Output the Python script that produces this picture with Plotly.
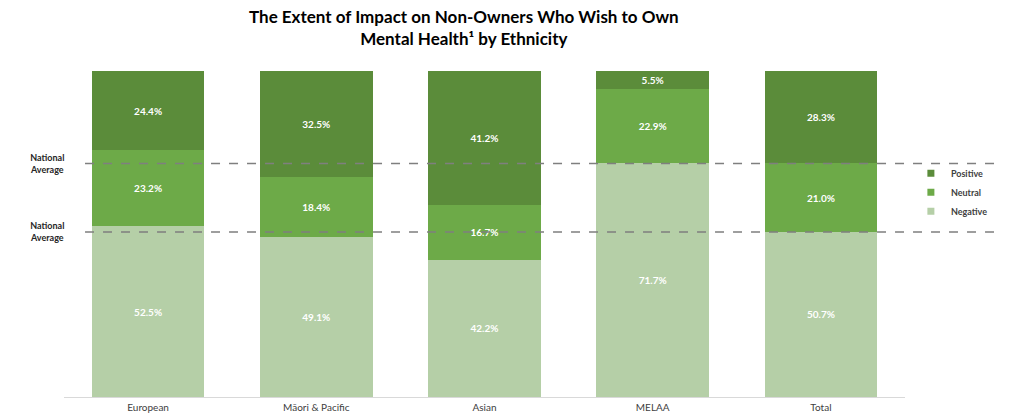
import plotly.graph_objects as go

categories = ["European", "Māori & Pacific", "Asian", "MELAA", "Total"]
negative = [52.5, 49.1, 42.2, 71.7, 50.7]
neutral = [23.2, 18.4, 16.7, 22.9, 21.0]
positive = [24.4, 32.5, 41.2, 5.5, 28.3]
national_avg = [50.7, 71.7]  # Total negative, Total negative + neutral
title_text = ("The Extent of Impact on Non-Owners Who Wish to Own<br>"
              "Mental Health¹ by Ethnicity")

colors = {"Positive": "#5B8C3A", "Neutral": "#6DAA48", "Negative": "#B5CFA7"}
series = [("Negative", negative), ("Neutral", neutral), ("Positive", positive)]

fig = go.Figure()
for name, vals in series:
    fig.add_trace(go.Bar(
        x=categories, y=vals, name=name,
        marker=dict(color=colors[name], line=dict(width=0)),
        texttemplate="%{y:.1f}%", textposition="inside",
        insidetextanchor="middle", constraintext="none",
        textfont=dict(color="white", size=10, family="Lato", weight="bold"),
        showlegend=False, hoverinfo="skip",
    ))

# legend entries with small square swatches
for name in ["Positive", "Neutral", "Negative"]:
    fig.add_trace(go.Scatter(
        x=[None], y=[None], mode="markers", name=name,
        marker=dict(symbol="square", size=7, color=colors[name]),
    ))

for v in national_avg:
    fig.add_shape(type="line", xref="paper", yref="y",
                  x0=0.025, x1=1.113, y0=v, y1=v,
                  line=dict(color="#7F7F7F", width=1.5, dash="dash"))
    fig.add_annotation(text="National<br>Average", xref="paper", yref="y",
                       x=-0.02, y=v, xanchor="center", yanchor="middle",
                       showarrow=False, align="center",
                       font=dict(size=9, color="#262626", family="Lato", weight="bold"))

# chart title
fig.add_annotation(
    text=title_text, xref="paper", yref="paper",
    x=(464 - 64) / 841, y=1 + (71 - 27.5) / 326,
    xanchor="center", yanchor="middle", showarrow=False, align="center",
    font=dict(size=17, color="black", family="Lato", weight="bold"),
)

fig.update_layout(
    width=1031, height=417,
    margin=dict(l=64, r=126, t=71, b=20, autoexpand=False),
    barmode="stack", bargap=0.33,
    plot_bgcolor="white", paper_bgcolor="white",
    legend=dict(x=1.007, y=0.731, xanchor="left", yanchor="top",
                traceorder="normal",
                font=dict(size=9, color="#404040", family="Lato", weight="bold"),
                itemwidth=30, tracegroupgap=0, bgcolor="rgba(0,0,0,0)"),
    xaxis=dict(showline=True, linecolor="#D9D9D9", linewidth=1,
               tickfont=dict(size=10, color="#404040", family="Lato"),
               automargin=False, ticklabelstandoff=1, ticks="", showgrid=False),
    yaxis=dict(range=[0, 100.1], visible=False, showgrid=False, automargin=False),
)

fig.write_html("out.html")
